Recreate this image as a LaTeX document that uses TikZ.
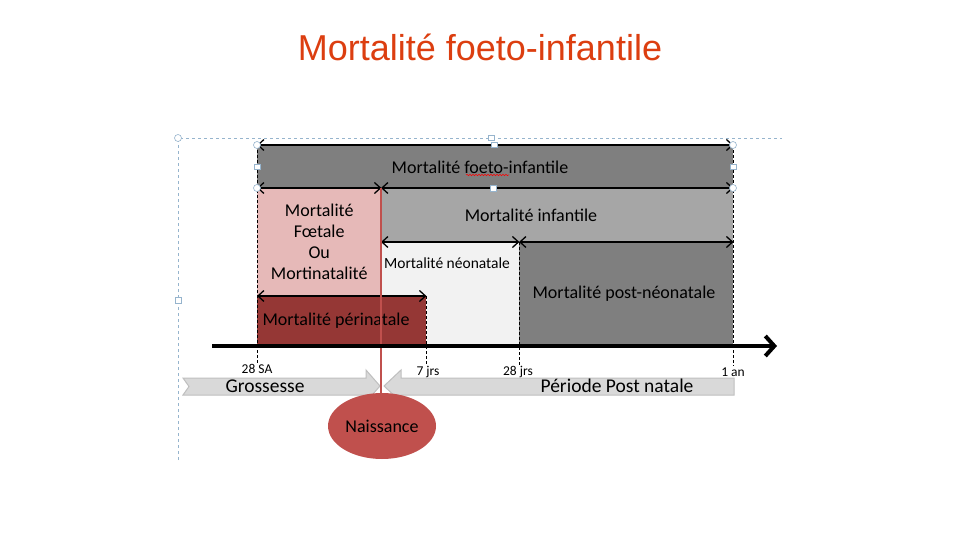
\documentclass[tikz,border=0pt]{standalone}
\usepackage{fontspec}
\setmainfont{Carlito}
\newfontfamily\titlefont{Liberation Sans}
\usetikzlibrary{shapes,arrows.meta,decorations.pathmorphing}
\definecolor{titlered}{RGB}{220,62,16}
\definecolor{boxdark}{RGB}{127,127,127}
\definecolor{boxmid}{RGB}{166,166,166}
\definecolor{boxpink}{RGB}{230,185,184}
\definecolor{boxlight}{RGB}{242,242,242}
\definecolor{boxwine}{RGB}{149,55,53}
\definecolor{birthred}{RGB}{192,80,77}
\definecolor{bandgray}{RGB}{217,217,217}
\definecolor{bandedge}{RGB}{191,191,191}
\definecolor{selblue}{RGB}{150,180,205}
\tikzstyle{band} = [rectangle, anchor=north west, inner sep=0pt, align=center, font=\fontsize{18}{21}\selectfont]
\tikzstyle{boxtext} = [inner sep=0pt, font=\fontsize{18}{21}\selectfont]
\tikzstyle{spanarrow} = [line width=1.3pt, {Straight Barb[length=6pt,width=11pt]}-{Straight Barb[length=6pt,width=11pt]}]
\tikzstyle{tickline} = [dashed, line width=0.8pt, dash pattern=on 3pt off 2pt]
\tikzstyle{ticklabel} = [inner sep=1pt, font=\fontsize{13.5}{15}\selectfont]
\tikzstyle{period} = [fill=bandgray, draw=bandedge, line width=1pt]
\tikzstyle{selframe} = [draw=selblue, dashed, line width=0.6pt]
\tikzstyle{handle} = [draw=selblue, fill=white, line width=0.6pt]

\begin{document}
\begin{tikzpicture}[x=1pt,y=-1pt]
\useasboundingbox (0,0) rectangle (960,540);
\node[font=\titlefont\fontsize{36}{42}\selectfont, text=titlered] (title) at (480,47) {Mortalité foeto-infantile};

% selection frame
\draw[selframe] (178,460) -- (178,138) -- (782,138);

% the boxes
\node[band,fill=boxdark,minimum width=476pt,minimum height=43pt] (foeto) at (257,145) {};
\node[band,fill=boxmid,minimum width=352pt,minimum height=54pt] (infant) at (381,188) {};
\node[band,fill=boxpink,minimum width=124pt,minimum height=108pt] (foetale) at (257,188) {Mortalité\\Fœtale\\Ou\\Mortinatalité};
\node[band,fill=boxlight,minimum width=138pt,minimum height=103pt] (neonat) at (381,242) {};
\node[band,fill=boxdark,minimum width=214pt,minimum height=103pt] (postneo) at (519,242) {};
\node[band,fill=boxwine,minimum width=169pt,minimum height=49pt] (perinat) at (257,296) {};
\node[boxtext] (foetotext) at (480,167) {Mortalité foeto-infantile};
\node[boxtext] (infanttext) at (531,215) {Mortalité infantile};
\node[boxtext,font=\fontsize{15.5}{18}\selectfont] (neotext) at (447,263) {Mortalité néonatale};
\node[boxtext] (posttext) at (624,294) {Mortalité post-néonatale};
\node[boxtext] (perintext) at (336,321) {Mortalité périnatale};
\draw[red, decorate, decoration={snake,amplitude=0.7pt,segment length=3pt}, line width=0.5pt] (466,175) -- (509,175);

% time marks
\node[ticklabel] (sa28) at (257,369) {28 SA};
\node[ticklabel] (jrs7) at (428,372) {7 jrs};
\node[ticklabel] (jrs28) at (518,372) {28 jrs};
\node[ticklabel] (an1) at (733,372) {1 an};
\draw[tickline] (foeto.north west) -- (foeto.north west |- sa28.north);
\draw[tickline] (perinat.north east) -- (perinat.north east |- jrs7.north);
\draw[tickline] (postneo.north west) -- (postneo.north west |- jrs28.north);
\draw[tickline] (foeto.north east) -- (foeto.north east |- an1.north);

% spans
\draw[spanarrow] (foeto.north west) -- (foeto.north east);
\draw[spanarrow] (foetale.north west) -- (foetale.north east);
\draw[spanarrow] (infant.north west) -- (infant.north east);
\draw[spanarrow] (neonat.north west) -- (neonat.north east);
\draw[spanarrow] (postneo.north west) -- (postneo.north east);
\draw[spanarrow] (perinat.north west) -- (perinat.north east);

% periods
\draw[period] (183,378) -- (366,378) -- (366,370) -- (380,386) -- (366,402) -- (366,395) -- (183,395) -- (189,386.5) -- cycle;
\draw[period] (384,386) -- (401,370) -- (401,378) -- (734,378) -- (734,395) -- (401,395) -- (401,402) -- cycle;
\node[font=\fontsize{19.5}{22}\selectfont] (gross) at (265,386) {Grossesse};
\node[font=\fontsize{19.5}{22}\selectfont] (postnat) at (617,386) {Période Post natale};

% birth
\node[ellipse, fill=birthred, minimum width=108pt, minimum height=66pt, inner sep=0pt, font=\fontsize{18}{21}\selectfont] (birth) at (382,426) {Naissance};
\draw[birthred, line width=2pt] (foetale.north east) -- (foetale.north east |- birth.north);

% time axis
\coordinate (tstart) at (212,346);
\coordinate (tend) at (777,346);
\draw[line width=4pt, -{Straight Barb[length=9pt,width=20pt]}] (tstart) -- (tend);

% handles
\foreach \p in {(257,145),(257,188),(733,145),(733,188),(178,138)}
  \draw[handle] \p circle (3.5pt);
\foreach \p in {(257,167),(733,167),(493,188),(494,145),(491,138),(178,300)}
  \draw[handle] \p ++(-2.8,-2.8) rectangle ++(5.6,5.6);
\end{tikzpicture}
\end{document}
